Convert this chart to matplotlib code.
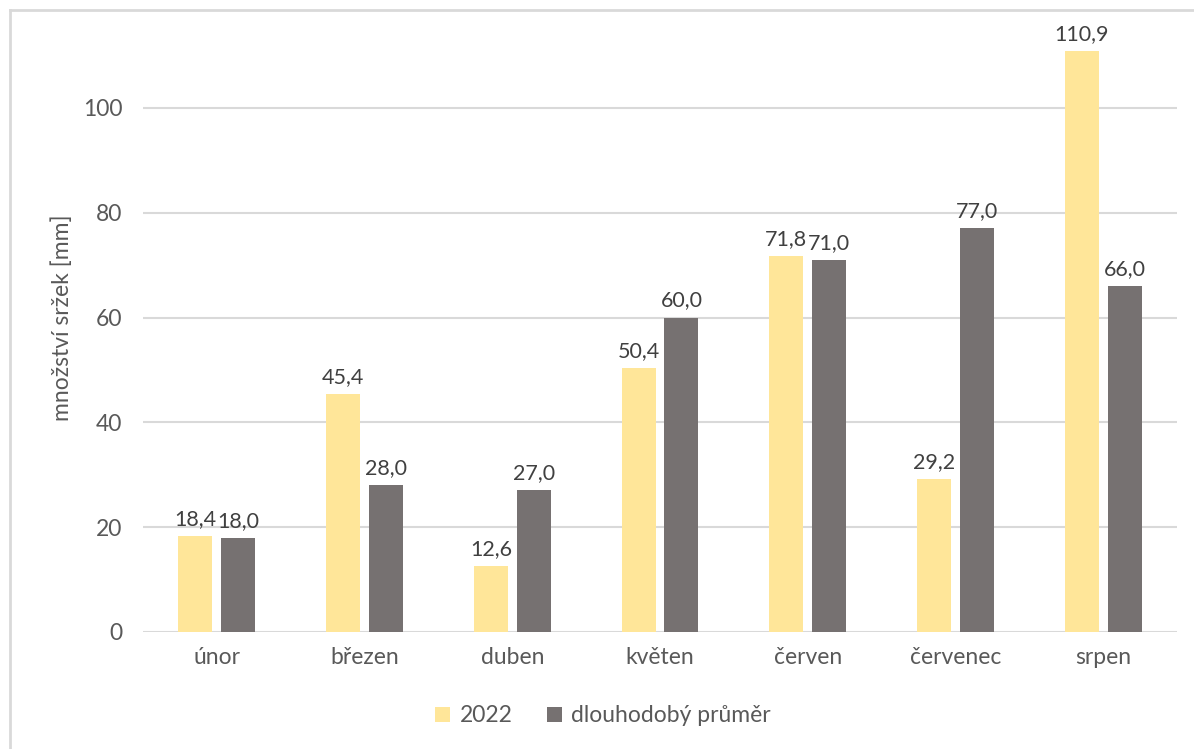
import numpy as np
import matplotlib
matplotlib.use('Agg')
import matplotlib.pyplot as plt
from matplotlib.lines import Line2D

months = ['únor', 'březen', 'duben', 'květen', 'červen', 'červenec', 'srpen']
rain_2022 = [18.4, 45.4, 12.6, 50.4, 71.8, 29.2, 110.9]
rain_avg = [18.0, 28.0, 27.0, 60.0, 71.0, 77.0, 66.0]
series_names = ['2022', 'dlouhodobý průměr']

yellow = '#FFE699'
grey = '#767171'
text_col = '#595959'
grid_col = '#D9D9D9'
fs = 16.5

plt.rcParams['font.family'] = ['Lato', 'DejaVu Sans']

fig = plt.figure(figsize=(11.94, 7.49), dpi=100)
ax = fig.add_axes([143 / 1194, 1 - 632 / 749, (1177 - 143) / 1194, 629 / 749])

x = np.arange(len(months))
w = 0.23
gap = 0.06
off = (w + gap) / 2
b1 = ax.bar(x - off, rain_2022, w, color=yellow, label=series_names[0], zorder=3)
b2 = ax.bar(x + off, rain_avg, w, color=grey, label=series_names[1], zorder=3)

for bars in (b1, b2):
    for bar in bars:
        h = bar.get_height()
        ax.annotate(f'{h:.1f}'.replace('.', ','),
                    (bar.get_x() + bar.get_width() / 2, h),
                    xytext=(0, 5), textcoords='offset points',
                    ha='center', va='bottom', fontsize=15.5, color='#404040')

ax.set_xlim(-0.5, len(months) - 0.5)
ax.set_ylim(0, 120)
ax.set_yticks([0, 20, 40, 60, 80, 100])
ax.set_xticks(x)
ax.set_xticklabels(months)
ax.yaxis.grid(True, color=grid_col, linewidth=1.5, zorder=0)
ax.tick_params(axis='both', length=0, labelsize=fs, colors=text_col)
ax.tick_params(axis='y', pad=15)
ax.tick_params(axis='x', pad=11)
for s in ax.spines.values():
    s.set_visible(False)
ax.set_ylabel('množství sržek [mm]', fontsize=fs, color=text_col, labelpad=7)

leg = fig.legend(loc='center', bbox_to_anchor=(0.505, 1 - 716 / 749), ncol=2,
                 frameon=False, fontsize=fs, labelcolor=text_col,
                 handlelength=0.65, handleheight=0.65, handletextpad=0.4,
                 columnspacing=1.5)

# outer chart frame (only left and top visible)
fig.add_artist(Line2D([10 / 1194, 10 / 1194], [0, 1 - 10 / 749],
                      transform=fig.transFigure, color=grid_col, linewidth=2))
fig.add_artist(Line2D([10 / 1194, 1], [1 - 10 / 749, 1 - 10 / 749],
                      transform=fig.transFigure, color=grid_col, linewidth=2))

fig.savefig('out.png', dpi=100)
